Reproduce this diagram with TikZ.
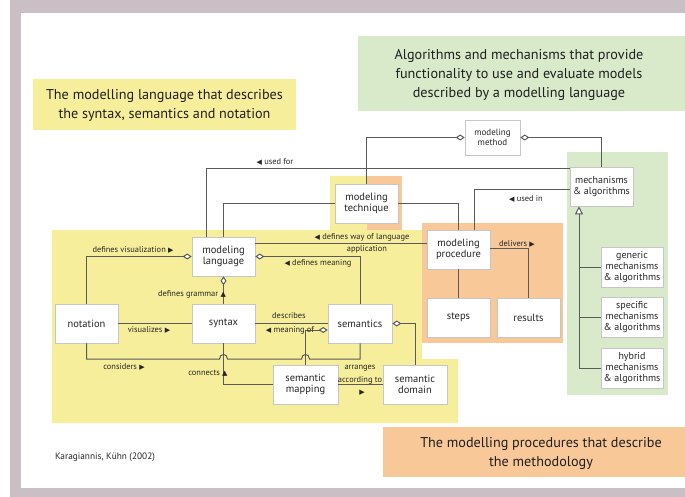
\documentclass[tikz,border=0pt]{standalone}
\usepackage{fontspec}
\setmainfont{PT Sans}
\newfontfamily\symf{DejaVu Sans}
\usetikzlibrary{arrows.meta,calc}
\definecolor{framec}{HTML}{C9BFC4}
\definecolor{ylw}{HTML}{F7EE9B}
\definecolor{org}{HTML}{F9C899}
\definecolor{grn}{HTML}{D9EACB}
\definecolor{lnc}{HTML}{5A5A5A}
\definecolor{txt}{HTML}{262626}
\newcommand{\LTri}{{\symf\fontsize{7}{7}\selectfont ◀}}
\newcommand{\RTri}{{\symf\fontsize{7}{7}\selectfont ▶}}
\newcommand{\UTri}{{\symf\fontsize{7}{7}\selectfont ▲}}
\tikzset{
  box/.style={draw=gray!45, fill=white, line width=0.6pt, minimum width=63pt, minimum height=39pt,
    text=txt, font=\fontsize{10.5}{11.5}\selectfont, align=center, inner sep=1pt},
  sbox/.style={box, minimum width=62pt, minimum height=40pt, font=\fontsize{10}{11}\selectfont},
  lbl/.style={font=\fontsize{8.4}{9}\selectfont, text=txt, inner sep=0pt},
  conn/.style={draw=lnc, line width=1pt},
  agg/.style={-{Diamond[open, fill=white, length=9pt, width=6pt]}},
  gen/.style={-{Triangle[open, fill=white, length=8pt, width=8pt]}},
  title/.style={font=\fontsize{14.2}{19}\selectfont, text=black!88, align=center, inner sep=0pt},
}
\begin{document}
\begin{tikzpicture}[x=1pt,y=-1pt]
\useasboundingbox (0,0) rectangle (685,497);
\fill[white] (0,0) rectangle (685,497);
\fill[framec] (10,0) rectangle (685,497);
\fill[white] (21,13) rectangle (685,488);

% regions
\fill[ylw] (33,79) rectangle (296,130);
\fill[grn] (358,36) rectangle (685,111);
\fill[org] (383,427) rectangle (685,477);
\fill[ylw] (52,230) -- (422,230) -- (422,359) -- (458,359) -- (458,423) -- (52,423) -- cycle;
\fill[ylw] (330,176) rectangle (367,230);
\fill[org] (367,176) rectangle (402,230);
\fill[org] (422,223) rectangle (563,343);
\fill[grn] (567,152) rectangle (668,395);

% titles
\node[title] (t1) at (164.5,105) {The modelling language that describes\\the syntax, semantics and notation};
\node[title] (t2) at (519,75) {Algorithms and mechanisms that provide\\functionality to use and evaluate models\\described by a modelling language};
\node[title] (t3) at (541,453) {The modelling procedures that describe\\the methodology};
\node[font=\fontsize{9.3}{10}\selectfont, text=txt, inner sep=0pt] (src) at (105,457) {Karagiannis, Kühn (2002)};

% boxes
\node[box, minimum width=55pt, minimum height=35pt, font=\fontsize{9}{10}\selectfont] (method) at (492.5,137.5) {modeling\\method};
\node[box] (tech) at (366.5,203.5) {modeling\\technique};
\node[box] (lang) at (223.5,256.5) {modeling\\language};
\node[box] (nota) at (86.5,323.5) {notation};
\node[box] (syn) at (223.5,323.5) {syntax};
\node[box, minimum width=64pt] (sem) at (360,323.5) {semantics};
\node[box, minimum width=65pt] (map) at (305.5,384.5) {semantic\\mapping};
\node[box, minimum width=64pt] (dom) at (415,384.5) {semantic\\domain};
\node[box] (proc) at (458.5,249.5) {modeling\\procedure};
\node[box] (steps) at (458.5,317.5) {steps};
\node[box] (res) at (528.5,317.5) {results};
\node[box, font=\fontsize{10}{11}\selectfont] (mech) at (601.5,186.5) {mechanisms\\\& algorithms};
\node[sbox] (gen1) at (632,267) {generic\\mechanisms\\\& algorithms};
\node[sbox] (spec) at (632,317.5) {specific\\mechanisms\\\& algorithms};
\node[sbox] (hyb) at (632,368) {hybrid\\mechanisms\\\& algorithms};

\coordinate (crow) at (0,359);

% connectors
\draw[conn,agg] (tech.north) |- (method.west);
\draw[conn,agg] (mech.north) |- (method.east);
\draw[conn] ([xshift=-17.5pt]lang.north) |- ([yshift=-2pt]mech.north west);
\draw[conn] (lang.north) |- (tech.west);
\draw[conn] (tech.east) -| (proc.north);
\draw[conn] ([xshift=15.5pt]proc.north) |- ([yshift=-3pt]mech.west);
\draw[conn] ([yshift=13.5pt]lang.east) coordinate (dw) -- (dw -| proc.west);
\draw[conn,agg] (nota.north) |- (lang.west);
\draw[conn,agg] (sem.north) |- (lang.east);
\draw[conn,agg] (syn.north) -- (lang.south);
\draw[conn] (nota.east) -- (syn.west);
\draw[conn] (syn.east) -- (sem.west);
\draw[conn,agg] (map.north) |- ([yshift=-6.5pt]sem.west);
\draw[conn] (nota.south) |- ($(syn.south |- crow)+(-4,0)$)
  .. controls +(0,-6) and +(0,-6) .. ($(syn.south |- crow)+(4,0)$)
  -- ($(map.north |- crow)+(-4,0)$)
  .. controls +(0,-6) and +(0,-6) .. ($(map.north |- crow)+(4,0)$)
  -| (sem.south);
\draw[conn] (syn.south) |- (map.west);
\draw[conn] (map.east) -- (dom.west);
\draw[conn,agg] (dom.north) |- (sem.east);
\draw[conn] ([yshift=1.5pt]proc.east) -| (res.north);
\draw[conn] (proc.south) -- (steps.north);
\coordinate (gtop) at ([xshift=-22.5pt]mech.south);
\draw[conn,gen] (hyb.west) -| (gtop);
\draw[conn] (gen1.west) -- (gen1.west -| gtop);
\draw[conn] (spec.west) -- (spec.west -| gtop);

% labels
\node[lbl] (l1) at (275,162) {\LTri{} used for};
\node[lbl] (l2) at (526,199) {\LTri{} used in};
\node[lbl] (l3) at (362,237) {\LTri{} defines way of language};
\node[lbl] (l4) at (367,249.5) {application};
\node[lbl] (l5) at (133,250) {defines visualization \RTri};
\node[lbl] (l6) at (318,263.5) {\LTri{} defines meaning};
\node[lbl] (l7) at (192,294) {defines grammar \UTri};
\node[lbl] (l8) at (149,330) {visualizes \RTri};
\node[lbl] (l9) at (289,316) {describes};
\node[lbl] (l10) at (290,330) {\LTri{} meaning of};
\node[lbl] (l11) at (124,367) {considers \RTri};
\node[lbl] (l12) at (208,373) {connects \UTri};
\node[lbl] (l13) at (360,368) {arranges};
\node[lbl] (l14) at (360,380.5) {according to};
\node[lbl] (l15) at (362,393) {\RTri};
\node[lbl] (l16) at (517,243.5) {delivers \RTri};
\end{tikzpicture}
\end{document}
